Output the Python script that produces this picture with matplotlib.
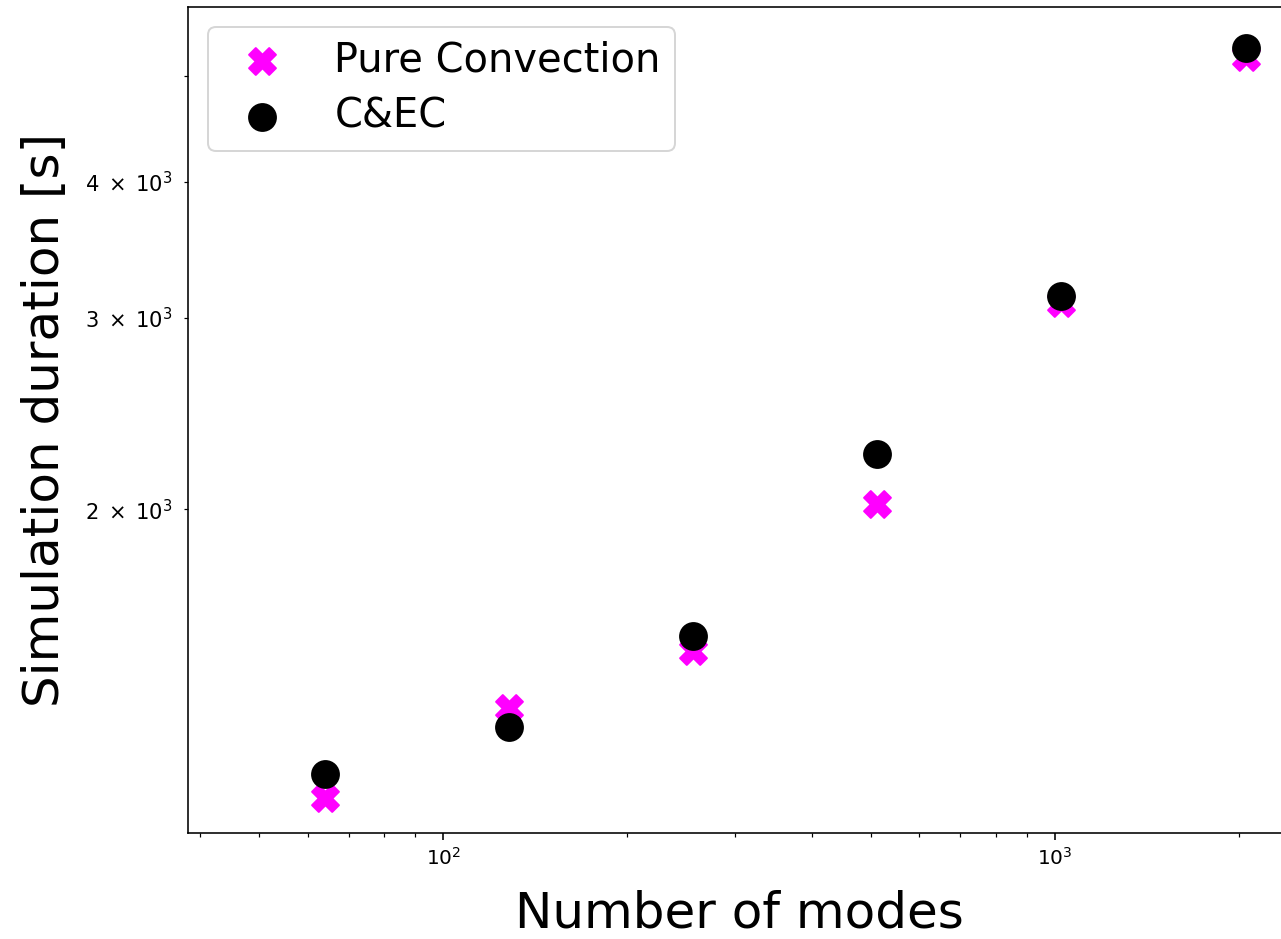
import math
import matplotlib
matplotlib.use("Agg")
import matplotlib.pyplot as plt
from matplotlib.ticker import FuncFormatter

modes = [64, 128, 256, 512, 1024, 2048]
pure_convection = [1085, 1313, 1482, 2021, 3093, 5206]
cec = [1142, 1260, 1529, 2248, 3141, 5314]
labelled_coefficients = [2, 3, 4, 6]

W, H = 1281, 939
DPI = 144
fig = plt.figure(figsize=(W / DPI, H / DPI), dpi=DPI)
left, right, top, bottom = 188.3, 1290, 6.7, 833.3
ax = fig.add_axes([left / W, 1 - bottom / H, (right - left) / W, (bottom - top) / H])

ax.scatter(modes, pure_convection, marker='X', color='magenta', s=180, label='Pure Convection')
ax.scatter(modes, cec, marker='o', color='black', s=180, label='C&EC')

ax.set_xscale('log')
ax.set_yscale('log')
ax.set_xlim(38.3, 2421)
ax.set_ylim(1007, 5794)


def minor_fmt(v, pos):
    e = math.floor(math.log10(v) + 1e-9)
    c = int(round(v / 10 ** e))
    if c in labelled_coefficients:
        return r'$%d\;\times\;10^{%d}$' % (c, e)
    return ''


ax.yaxis.set_minor_formatter(FuncFormatter(minor_fmt))
ax.tick_params(axis='y', which='both', labelsize=10.5, pad=6)

ax.set_xlabel('Number of modes', fontsize=25, labelpad=10)
ax.set_ylabel('Simulation duration [s]', fontsize=25, labelpad=8)
ax.legend(fontsize=20, loc='upper left', borderpad=0.35, labelspacing=0.4)

fig.savefig('out.png', dpi=DPI)
